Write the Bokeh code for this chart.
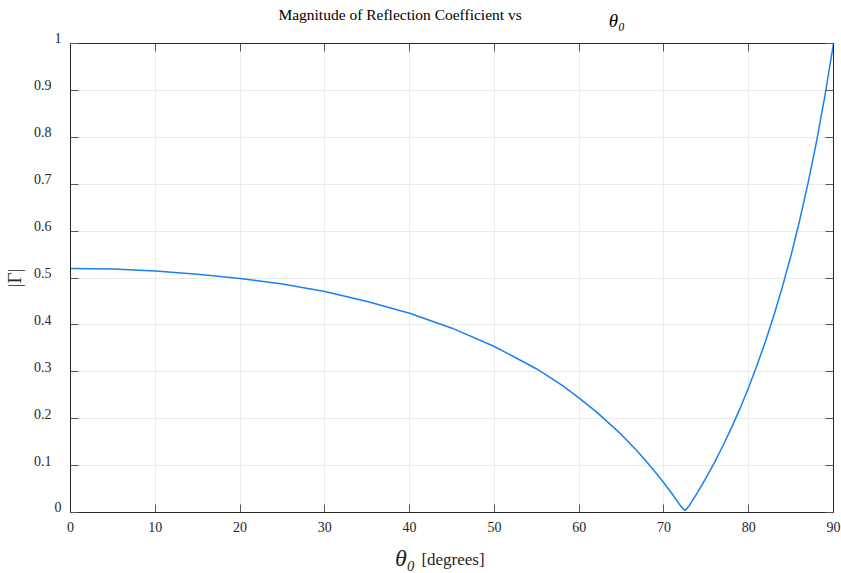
from bokeh.plotting import figure
from bokeh.models import Range1d, LinearAxis, FixedTicker
from bokeh.embed import file_html
from bokeh.resources import INLINE

# Incidence angle (degrees) and magnitude of reflection coefficient
theta_deg = [0, 5, 10, 15, 20, 25, 30, 35, 40, 45, 50, 55, 58, 60, 62, 65, 67, 68, 69, 70,
             71, 72, 72.5, 73, 74, 75, 76, 77, 78, 79, 80, 81, 82, 83, 84, 85, 86, 87, 88, 89, 90]
gamma_mag = [0.520, 0.519, 0.515, 0.508, 0.499, 0.487, 0.471, 0.450, 0.425, 0.393, 0.354,
             0.306, 0.271, 0.244, 0.215, 0.166, 0.128, 0.107, 0.086, 0.063, 0.039, 0.013,
             0.004, 0.015, 0.044, 0.075, 0.108, 0.144, 0.182, 0.223, 0.267, 0.315, 0.366,
             0.422, 0.483, 0.549, 0.622, 0.703, 0.791, 0.890, 1.000]

x_ticks = [0, 10, 20, 30, 40, 50, 60, 70, 80, 90]
y_ticks = [0, 0.1, 0.2, 0.3, 0.4, 0.5, 0.6, 0.7, 0.8, 0.9, 1.0]
y_dec_ticks = [0.1, 0.2, 0.3, 0.4, 0.5, 0.6, 0.7, 0.8, 0.9]
y_dec_labels = {0.1: "0.1", 0.2: "0.2", 0.3: "0.3", 0.4: "0.4", 0.5: "0.5",
                0.6: "0.6", 0.7: "0.7", 0.8: "0.8", 0.9: "0.9"}
y_int_ticks = [0, 1]
y_int_labels = {0: "0\n ", 1: "1\n "}

title_text = "Magnitude of Reflection Coefficient vs"
symbol_text = "θ₀"
xlabel_unit = "[degrees]"
ylabel_text = "|Γ|"

FONT = "Liberation Serif"
AX = "#262626"
TXT = "#262626"

# frame: x 69..833, y 43..515 (pixels)
p = figure(width=841, height=573, output_backend="svg", toolbar_location=None,
           x_range=Range1d(0, 90), y_range=Range1d(0, 1),
           x_axis_location=None, y_axis_location=None, title=None,
           min_border_left=69, min_border_right=8, min_border_top=43, min_border_bottom=58)
# pixel-aligned helper range for placing text pieces; slightly raised range for y tick labels
p.extra_x_ranges = {"px": Range1d(69, 833)}
p.extra_y_ranges = {"ylab": Range1d(-5 / 472, 1 - 5 / 472)}
p.outline_line_color = AX
p.outline_line_width = 1
p.background_fill_color = "white"
p.border_fill_color = "white"


def tick_axis(ax, ticks):
    ax.ticker = FixedTicker(ticks=ticks)
    ax.major_tick_in = 8
    ax.major_tick_out = 0
    ax.minor_tick_in = 0
    ax.minor_tick_out = 0
    ax.axis_line_color = AX
    ax.major_tick_line_color = "#555555"
    ax.major_label_text_font = FONT
    ax.major_label_text_font_size = "0px"
    ax.major_label_text_color = None
    ax.major_label_standoff = 0
    return ax


def text_axis(ax, ticks, labels, size, standoff, style="normal", color=TXT):
    ax.ticker = FixedTicker(ticks=ticks)
    ax.major_label_overrides = labels
    ax.axis_line_color = None
    ax.major_tick_line_color = None
    ax.minor_tick_line_color = None
    ax.major_tick_in = 0
    ax.major_tick_out = 0
    ax.minor_tick_in = 0
    ax.minor_tick_out = 0
    ax.major_label_text_font = FONT
    ax.major_label_text_font_size = size
    ax.major_label_text_font_style = style
    ax.major_label_text_color = color
    ax.major_label_standoff = standoff
    return ax


# bottom axis with ticks and numeric labels
xb = tick_axis(LinearAxis(), x_ticks)
xb.major_label_text_font_size = "14px"
xb.major_label_text_color = TXT
xb.major_label_standoff = 9
p.add_layout(xb, "below")

# x label pieces
p.add_layout(text_axis(LinearAxis(x_range_name="px"), [452], {452: xlabel_unit}, "17px", 15), "below")
p.add_layout(text_axis(LinearAxis(x_range_name="px"), [404], {404: symbol_text}, "24px", -27, "italic"), "below")

# left: tick-only axis, integer labels, decimal labels + y label
p.add_layout(tick_axis(LinearAxis(), y_ticks), "left")
yi = text_axis(LinearAxis(), y_int_ticks, y_int_labels, "14px", 9)
yi.major_label_text_line_height = 0.7
p.add_layout(yi, "left")
yd = text_axis(LinearAxis(y_range_name="ylab"), y_dec_ticks, y_dec_labels, "14px", 0)
yd.axis_label = ylabel_text
yd.axis_label_text_font = FONT
yd.axis_label_text_font_size = "19px"
yd.axis_label_text_font_style = "normal"
yd.axis_label_text_color = TXT
yd.axis_label_standoff = 6
p.add_layout(yd, "left")

# top: tick-only axis, then title pieces
p.add_layout(tick_axis(LinearAxis(), x_ticks), "above")
p.add_layout(text_axis(LinearAxis(x_range_name="px"), [616], {616: symbol_text}, "19px", 13, "italic", "#000000"), "above")
p.add_layout(text_axis(LinearAxis(x_range_name="px"), [399], {399: title_text}, "15.5px", -16, "normal", "#000000"), "above")

p.add_layout(tick_axis(LinearAxis(), y_ticks), "right")

p.xgrid.ticker = FixedTicker(ticks=x_ticks)
p.ygrid.ticker = FixedTicker(ticks=y_ticks)
p.xgrid.grid_line_color = "#ebebeb"
p.ygrid.grid_line_color = "#ebebeb"

p.line(theta_deg, gamma_mag, line_color="#1a80f0", line_width=1.5)

open("out.html", "w").write(file_html(p, INLINE))
